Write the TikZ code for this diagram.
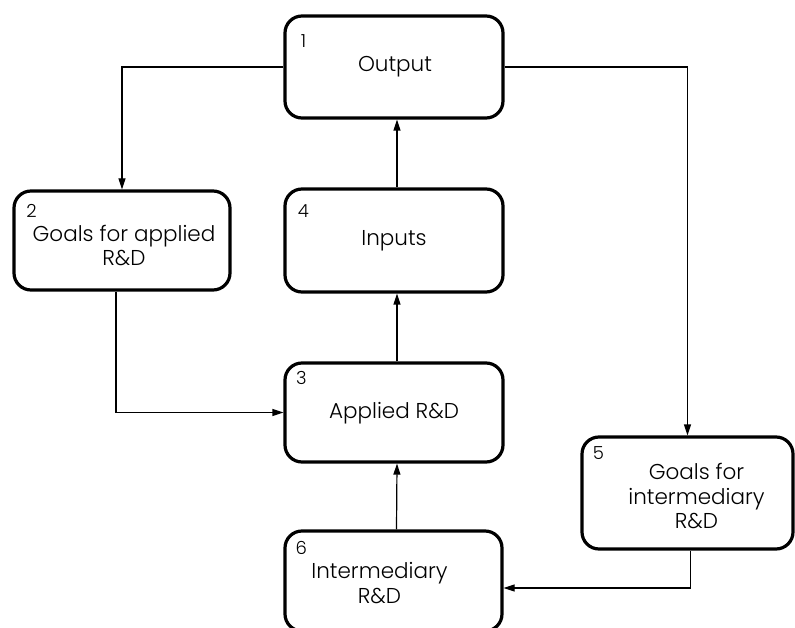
\documentclass[tikz,border=0pt]{standalone}
\usepackage{fontspec}
\setmainfont{Poppins}[UprightFont=* Light]
\usetikzlibrary{arrows.meta,calc}
\tikzset{
  stage/.style={draw, line width=3.2pt, rounded corners=17pt, rectangle,
    inner sep=0pt},
  caption/.style={inner sep=0pt, align=center,
    font=\fontsize{21.5}{24.5}\selectfont},
  tag/.style={inner sep=0pt, font=\fontsize{18}{20}\selectfont},
  link/.style={line width=1.2pt, -{Triangle[length=11pt,width=7pt]}}
}
\begin{document}
\begin{tikzpicture}[x=1pt,y=-1pt]
  \useasboundingbox (0,0) rectangle (795,628);
  % process boxes
  \node[stage, minimum width=218pt, minimum height=102pt] (b1) at (394,67) {};
  \node[stage, minimum width=216pt, minimum height=99pt] (b2) at (122,240.5) {};
  \node[stage, minimum width=218pt, minimum height=103pt] (b4) at (394,240.5) {};
  \node[stage, minimum width=218pt, minimum height=99pt] (b3) at (394,412.5) {};
  \node[stage, minimum width=211pt, minimum height=112pt] (b5) at (687.5,493) {};
  \node[stage, minimum width=217pt, minimum height=100pt] (b6) at (393.5,581) {};
  % box captions
  \node[caption] (c1) at ($(b1.center)+(1,0)$) {Output};
  \node[caption] (c2) at ($(b2.center)+(2,5)$) {Goals for applied\\R\&D};
  \node[caption] (c4) at ($(b4.center)+(0,0)$) {Inputs};
  \node[caption] (c3) at ($(b3.center)+(0,1)$) {Applied R\&D};
  \node[caption] (c5) at ($(b5.center)+(9,3)$) {Goals for\\intermediary\\R\&D};
  \node[caption] (c6) at ($(b6.center)+(-14,2)$) {Intermediary\\R\&D};
  % box numbers
  \node[tag] (t1) at ($(b1.north west)+(20,27)$) {1};
  \node[tag] (t2) at ($(b2.north west)+(19,22)$) {2};
  \node[tag] (t4) at ($(b4.north west)+(20,24)$) {4};
  \node[tag] (t3) at ($(b3.north west)+(18,17)$) {3};
  \node[tag] (t5) at ($(b5.north west)+(18,18)$) {5};
  \node[tag] (t6) at ($(b6.north west)+(18,19)$) {6};
  % connectors
  \draw[link] (b1.west) -| (b2.north);
  \draw[link] ($(b2.south)+(-6,0)$) |- (b3.west);
  \draw[link] ($(b3.north)+(3,0)$) -- ($(b4.south)+(3,0)$);
  \draw[link] ($(b4.north)+(3,0)$) -- ($(b1.south)+(3,0)$);
  \draw[link] ($(b6.north)+(3,0)$) -- ($(b3.south)+(3,0)$);
  \draw[link] (b1.east) -| (b5.north);
  \draw[link] ($(b5.south)+(3,0)$) |- ($(b6.east)+(0,7)$);
\end{tikzpicture}
\end{document}
